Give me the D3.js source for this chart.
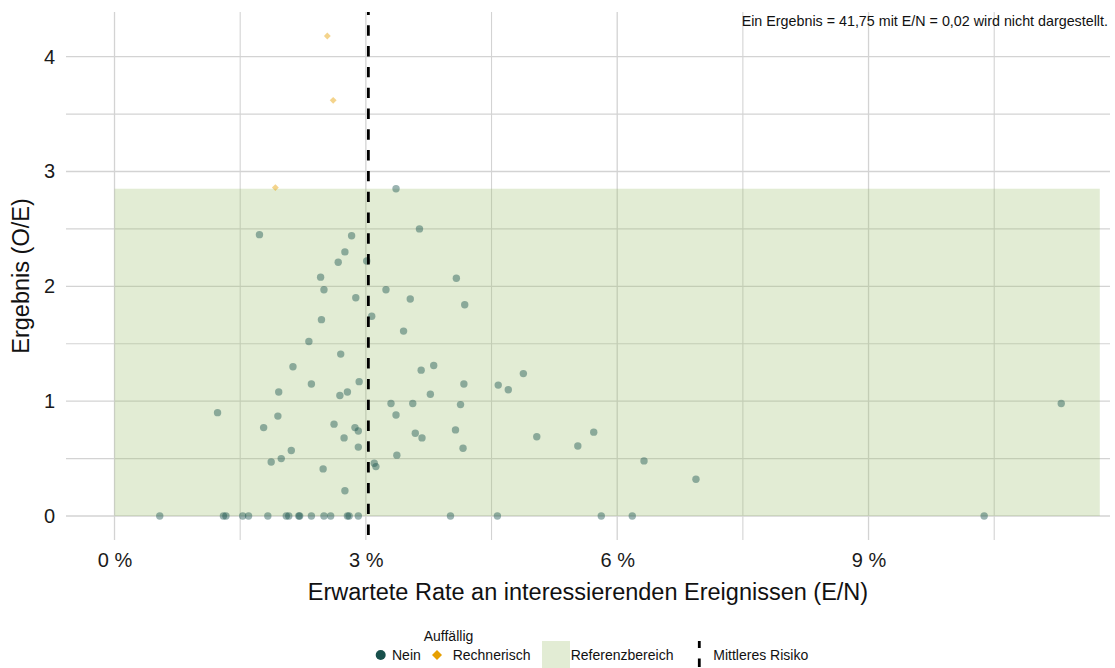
<!DOCTYPE html>
<html lang="de">
<head>
<meta charset="utf-8">
<title>Ergebnis (O/E) nach erwarteter Rate</title>
<script src="https://cdn.jsdelivr.net/npm/d3@7"></script>
<style>
  html, body { margin: 0; padding: 0; background: #ffffff; }
  svg { display: block; font-family: "Liberation Sans", Arial, Helvetica, sans-serif; }
</style>
</head>
<body>
<svg id="chart" width="1115" height="668"></svg>
<script>
// Einrichtungen ohne Auffälligkeit: erwartete Rate E/N (in %) und Ergebnis O/E
const neinEN = [
  3.36, 1.73, 2.83, 2.75, 2.67, 3.01, 3.64, 2.46, 2.50, 3.24,
  4.08, 2.88, 3.53, 4.18, 3.07, 2.47, 3.45, 2.32, 2.70, 2.13,
  2.35, 2.92, 1.96, 2.69, 2.78, 1.23, 1.95, 1.78, 2.62, 2.87,
  2.91, 2.74, 2.91, 2.11, 1.87, 1.99, 2.49, 2.75, 3.10, 3.12,
  3.30, 3.36, 3.56, 3.66, 3.81, 3.77, 3.59, 3.67, 3.37, 4.17,
  4.13, 4.07, 4.16, 4.58, 4.70, 4.88, 5.04, 5.53, 5.72, 6.32,
  6.94, 11.30,
  0.54, 1.30, 1.33, 1.53, 1.60, 1.83, 2.05, 2.08, 2.20, 2.21,
  2.35, 2.50, 2.58, 2.78, 2.80, 2.91, 4.01, 4.57, 5.81, 6.18,
  10.38
];
const neinOE = [
  2.85, 2.45, 2.44, 2.30, 2.21, 2.22, 2.50, 2.08, 1.97, 1.97,
  2.07, 1.90, 1.89, 1.84, 1.74, 1.71, 1.61, 1.52, 1.41, 1.30,
  1.15, 1.17, 1.08, 1.05, 1.08, 0.90, 0.87, 0.77, 0.80, 0.77,
  0.74, 0.68, 0.60, 0.57, 0.47, 0.50, 0.41, 0.22, 0.46, 0.43,
  0.98, 0.88, 0.98, 1.27, 1.31, 1.06, 0.72, 0.68, 0.53, 1.15,
  0.97, 0.75, 0.59, 1.14, 1.10, 1.24, 0.69, 0.61, 0.73, 0.48,
  0.32, 0.98,
  0, 0, 0, 0, 0, 0, 0, 0, 0, 0,
  0, 0, 0, 0, 0, 0, 0, 0, 0, 0,
  0
];

// Rechnerisch auffällige Einrichtungen (der letzte Wert liegt außerhalb der Achse)
const rechnerischEN = [2.54, 2.61, 1.92, 2.00];
const rechnerischOE = [4.18, 3.62, 2.86, 41.75];

// Referenzbereich (O/E) und mittleres Risiko (E/N in %)
const referenzOE = [0, 2.85];
const referenzEN = [0, 11.76];
const mittleresRisiko = 3.03;

// Achsen
const xTicks = [0, 3, 6, 9];
const xMinorTicks = [1.5, 4.5, 7.5, 10.5];
const yTicks = [0, 1, 2, 3, 4];
const yMinorTicks = [0.5, 1.5, 2.5, 3.5];
const xDomain = [-0.579, 11.882];
const yDomain = [-0.209, 4.389];

const W = 1115, H = 668;
const panel = { left: 66, right: 1110, top: 12, bottom: 540 };

const deLocale = d3.formatLocale({ decimal: ",", thousands: ".", grouping: [3], currency: ["", " €"] });
const fmt2 = deLocale.format(".2f");

const svg = d3.select("#chart");

const x = d3.scaleLinear().domain(xDomain).range([panel.left, panel.right]);
const y = d3.scaleLinear().domain(yDomain).range([panel.bottom, panel.top]);

const gridColor = "#d3d3d3";
const grid = svg.append("g").attr("class", "grid");

// Horizontale Gitterlinien
grid.selectAll("line.h")
  .data(yTicks.concat(yMinorTicks))
  .join("line")
  .attr("class", "h")
  .attr("x1", panel.left).attr("x2", panel.right)
  .attr("y1", d => y(d)).attr("y2", d => y(d))
  .attr("stroke", gridColor)
  .attr("stroke-width", d => Number.isInteger(d) ? 1.3 : 1.1);

// Vertikale Gitterlinien
grid.selectAll("line.v")
  .data(xTicks.concat(xMinorTicks))
  .join("line")
  .attr("class", "v")
  .attr("y1", panel.top).attr("y2", panel.bottom)
  .attr("x1", d => x(d)).attr("x2", d => x(d))
  .attr("stroke", gridColor)
  .attr("stroke-width", d => Number.isInteger(d) ? 1.3 : 1.1);

// Referenzbereich
const refFill = "rgb(158,192,112)";
const refOpacity = 0.3;
svg.append("rect")
  .attr("x", x(referenzEN[0]))
  .attr("y", y(referenzOE[1]))
  .attr("width", x(referenzEN[1]) - x(referenzEN[0]))
  .attr("height", y(referenzOE[0]) - y(referenzOE[1]))
  .attr("fill", refFill)
  .attr("fill-opacity", refOpacity);

// Punkte
const neinColor = "#18504c";
const rechnerischColor = "#e69f00";

const neinData = neinEN.map((en, i) => ({ en, oe: neinOE[i] }));
const rechnerischData = rechnerischEN.map((en, i) => ({ en, oe: rechnerischOE[i] }));
const inRange = d => d.oe <= yDomain[1] && d.en <= xDomain[1];
const hidden = neinData.concat(rechnerischData).filter(d => !inRange(d));

svg.append("g")
  .selectAll("circle")
  .data(neinData.filter(inRange))
  .join("circle")
  .attr("cx", d => x(d.en))
  .attr("cy", d => y(d.oe))
  .attr("r", 3.7)
  .attr("fill", neinColor)
  .attr("fill-opacity", 0.43);

const diamond = d3.symbol().type(d3.symbolDiamond2).size(30);
svg.append("g")
  .selectAll("path")
  .data(rechnerischData.filter(inRange))
  .join("path")
  .attr("d", diamond)
  .attr("transform", d => `translate(${x(d.en)},${y(d.oe)})`)
  .attr("fill", rechnerischColor)
  .attr("fill-opacity", 0.45);

// Mittleres Risiko
const dash = "10.4,10.4";
svg.append("line")
  .attr("x1", x(mittleresRisiko)).attr("x2", x(mittleresRisiko))
  .attr("y1", panel.bottom).attr("y2", panel.top)
  .attr("stroke", "#000")
  .attr("stroke-width", 2.8)
  .attr("stroke-dasharray", dash)
  .attr("stroke-dashoffset", 15.7);

// Achsen
const xAxis = d3.axisBottom(x)
  .tickValues(xTicks)
  .tickSize(0)
  .tickPadding(12.8)
  .tickFormat(d => `${d} %`);
const gx = svg.append("g")
  .attr("transform", `translate(0,${panel.bottom})`)
  .call(xAxis);
gx.select(".domain").remove();
gx.selectAll("text")
  .attr("font-size", 20)
  .attr("fill", "#1a1a1a")
  .attr("font-family", "Liberation Sans, Arial, sans-serif");

const yAxis = d3.axisLeft(y)
  .tickValues(yTicks)
  .tickSize(0)
  .tickPadding(11)
  .tickFormat(d => String(d));
const gy = svg.append("g")
  .attr("transform", `translate(${panel.left},0)`)
  .call(yAxis);
gy.select(".domain").remove();
gy.selectAll("text")
  .attr("font-size", 20)
  .attr("fill", "#1a1a1a")
  .attr("font-family", "Liberation Sans, Arial, sans-serif");

// Achsentitel
svg.append("text")
  .attr("x", (panel.left + panel.right) / 2)
  .attr("y", 600)
  .attr("text-anchor", "middle")
  .attr("font-size", 23.5)
  .attr("fill", "#111")
  .text("Erwartete Rate an interessierenden Ereignissen (E/N)");

svg.append("text")
  .attr("transform", `translate(29,${(panel.top + panel.bottom) / 2}) rotate(-90)`)
  .attr("text-anchor", "middle")
  .attr("font-size", 23.5)
  .attr("fill", "#111")
  .text("Ergebnis (O/E)");

// Hinweis auf nicht dargestellte Werte
hidden.forEach((d, i) => {
  svg.append("text")
    .attr("x", 1108)
    .attr("y", 25.5 + i * 17)
    .attr("text-anchor", "end")
    .attr("font-size", 14.3)
    .attr("fill", "#111")
    .text(`Ein Ergebnis = ${fmt2(d.oe)} mit E/N = ${fmt2(d.en / 100)} wird nicht dargestellt.`);
});

// Legende
const legend = svg.append("g").attr("font-size", 14).attr("fill", "#111");
const keyY = 655;

legend.append("text")
  .attr("x", 448.5).attr("y", 641)
  .attr("text-anchor", "middle")
  .text("Auffällig");

legend.append("circle")
  .attr("cx", 380.7).attr("cy", keyY).attr("r", 5)
  .attr("fill", neinColor);
legend.append("text")
  .attr("x", 392).attr("y", keyY + 5)
  .text("Nein");

legend.append("path")
  .attr("d", d3.symbol().type(d3.symbolDiamond2).size(64))
  .attr("transform", `translate(437,${keyY})`)
  .attr("fill", rechnerischColor);
legend.append("text")
  .attr("x", 452.7).attr("y", keyY + 5)
  .text("Rechnerisch");

legend.append("rect")
  .attr("x", 542).attr("y", 641)
  .attr("width", 28).attr("height", 28)
  .attr("fill", refFill)
  .attr("fill-opacity", refOpacity);
legend.append("text")
  .attr("x", 570.7).attr("y", keyY + 5)
  .text("Referenzbereich");

legend.append("line")
  .attr("x1", 699.3).attr("x2", 699.3)
  .attr("y1", 669).attr("y2", 641)
  .attr("stroke", "#000")
  .attr("stroke-width", 2.8)
  .attr("stroke-dasharray", "8.5,10.5")
  .attr("stroke-dashoffset", -2);
legend.append("text")
  .attr("x", 713.3).attr("y", keyY + 5)
  .text("Mittleres Risiko");
</script>
</body>
</html>
